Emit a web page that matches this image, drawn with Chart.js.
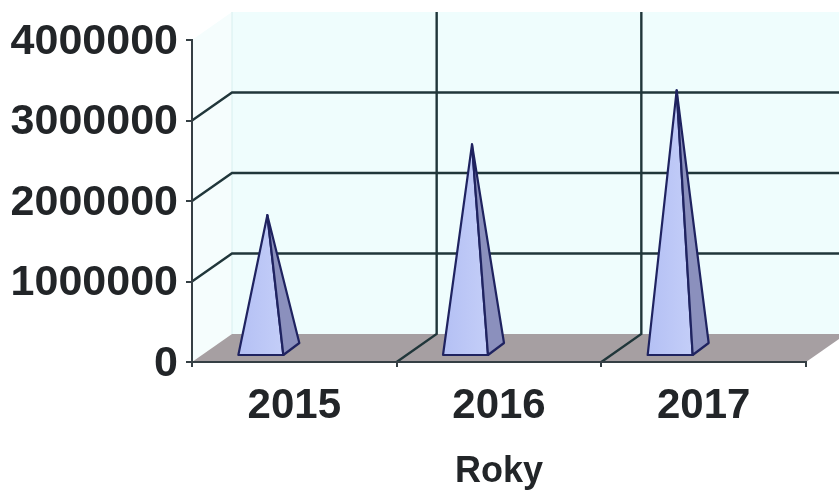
<!DOCTYPE html>
<html>
<head>
<meta charset="utf-8">
<style>
  html, body { margin: 0; padding: 0; background: #ffffff; }
  #wrap { width: 839px; height: 494px; position: relative; overflow: hidden; }
</style>
<script src="https://cdn.jsdelivr.net/npm/chart.js@4"></script>
</head>
<body>
<div id="wrap"><canvas id="chart" width="839" height="494"></canvas></div>
<script>
const years = ['2015', '2016', '2017'];
const amounts = [1650000, 2530000, 3200000];
const axisTitle = 'Roky';
const axisMax = 4000000;
const axisStep = 1000000;

// Oblique depth of the 3D box, in pixels
const depthX = 40;
const depthY = 28;

const LINE = '#20363a';
const AXIS = '#353f44';
const TEXT = '#222528';

const box3d = {
  id: 'box3d',
  beforeDraw(chart) {
    const { ctx, chartArea: a, scales: { x, y } } = chart;
    const W = chart.width;
    const y0 = y.getPixelForValue(0);
    const yTop = y.getPixelForValue(axisMax);
    ctx.save();

    // Back wall
    ctx.fillStyle = '#effdfd';
    ctx.fillRect(a.left + depthX, yTop - depthY, W, y0 - yTop);

    // Side wall
    ctx.fillStyle = '#f5fdfd';
    ctx.beginPath();
    ctx.moveTo(a.left, yTop);
    ctx.lineTo(a.left + depthX, yTop - depthY);
    ctx.lineTo(a.left + depthX, y0 - depthY);
    ctx.lineTo(a.left, y0);
    ctx.closePath();
    ctx.fill();

    ctx.strokeStyle = '#d8efef';
    ctx.lineWidth = 1;
    ctx.beginPath();
    ctx.moveTo(a.left + depthX, yTop - depthY);
    ctx.lineTo(a.left + depthX, y0 - depthY);
    ctx.stroke();

    // Floor
    ctx.fillStyle = '#a69fa2';
    ctx.beginPath();
    ctx.moveTo(a.left, y0);
    ctx.lineTo(a.left + depthX, y0 - depthY);
    ctx.lineTo(a.right + depthX, y0 - depthY);
    ctx.lineTo(a.right, y0);
    ctx.closePath();
    ctx.fill();

    // Value gridlines run up the side wall and along the back wall
    ctx.strokeStyle = LINE;
    ctx.lineWidth = 2.4;
    y.ticks.forEach(t => {
      if (t.value === 0 || t.value === axisMax) return;
      const py = y.getPixelForValue(t.value);
      ctx.beginPath();
      ctx.moveTo(a.left, py);
      ctx.lineTo(a.left + depthX, py - depthY);
      ctx.lineTo(W, py - depthY);
      ctx.stroke();
    });

    // Category dividers cross the floor and climb the back wall
    for (let i = 1; i < years.length; i++) {
      const px = (x.getPixelForValue(i - 1) + x.getPixelForValue(i)) / 2;
      ctx.beginPath();
      ctx.moveTo(px, y0);
      ctx.lineTo(px + depthX, y0 - depthY);
      ctx.lineTo(px + depthX, yTop - depthY);
      ctx.stroke();
    }
    ctx.restore();
  },
  afterDatasetsDraw(chart) {
    const { ctx, scales: { y } } = chart;
    const y0 = y.getPixelForValue(0);
    const meta = chart.getDatasetMeta(0);
    meta.data.forEach(bar => {
      const c = bar.x;
      const fl = [c - 56, y0 - 7];
      const fr = [c - 11, y0 - 7];
      const br = [c + 5, y0 - 19];
      const apex = [c - 27, bar.y - 14];

      ctx.save();
      ctx.lineJoin = 'round';
      ctx.strokeStyle = '#1f2360';
      ctx.lineWidth = 2.2;

      const front = ctx.createLinearGradient(fl[0], 0, fr[0], 0);
      front.addColorStop(0, '#b4c0f4');
      front.addColorStop(1, '#c4cef8');
      ctx.fillStyle = front;
      ctx.beginPath();
      ctx.moveTo(...fl); ctx.lineTo(...fr); ctx.lineTo(...apex);
      ctx.closePath();
      ctx.fill();
      ctx.stroke();

      ctx.fillStyle = '#8b90bd';
      ctx.beginPath();
      ctx.moveTo(...fr); ctx.lineTo(...br); ctx.lineTo(...apex);
      ctx.closePath();
      ctx.fill();
      ctx.stroke();
      ctx.restore();
    });
  }
};

new Chart(document.getElementById('chart'), {
  type: 'bar',
  data: {
    labels: years,
    datasets: [{ data: amounts, backgroundColor: 'rgba(0,0,0,0)', borderWidth: 0 }]
  },
  plugins: [box3d],
  options: {
    responsive: false,
    animation: false,
    layout: { padding: { top: 40, right: 33, left: 0, bottom: 0 } },
    plugins: { legend: { display: false }, tooltip: { enabled: false } },
    scales: {
      x: {
        border: { color: AXIS, width: 2 },
        grid: { drawOnChartArea: false, color: AXIS, tickLength: 5, lineWidth: 2 },
        ticks: { color: TEXT, font: { family: 'Liberation Sans', size: 42, weight: 'bold' }, padding: 14, maxRotation: 0 },
        title: {
          display: true, text: axisTitle, color: TEXT,
          font: { family: 'Liberation Sans', size: 36, weight: 'bold' },
          padding: { top: 10, bottom: 0 }
        },
        afterFit(s) { s.height = 132; }
      },
      y: {
        min: 0, max: axisMax,
        border: { color: AXIS, width: 2 },
        grid: { drawOnChartArea: false, color: AXIS, tickLength: 6, lineWidth: 2 },
        ticks: {
          stepSize: axisStep, color: TEXT, padding: 8, labelOffset: 2,
          font: { family: 'Liberation Sans', size: 43, weight: 'bold' },
          callback: v => String(v)
        },
        afterFit(s) { s.width = 192; }
      }
    }
  }
});
</script>
</body>
</html>
